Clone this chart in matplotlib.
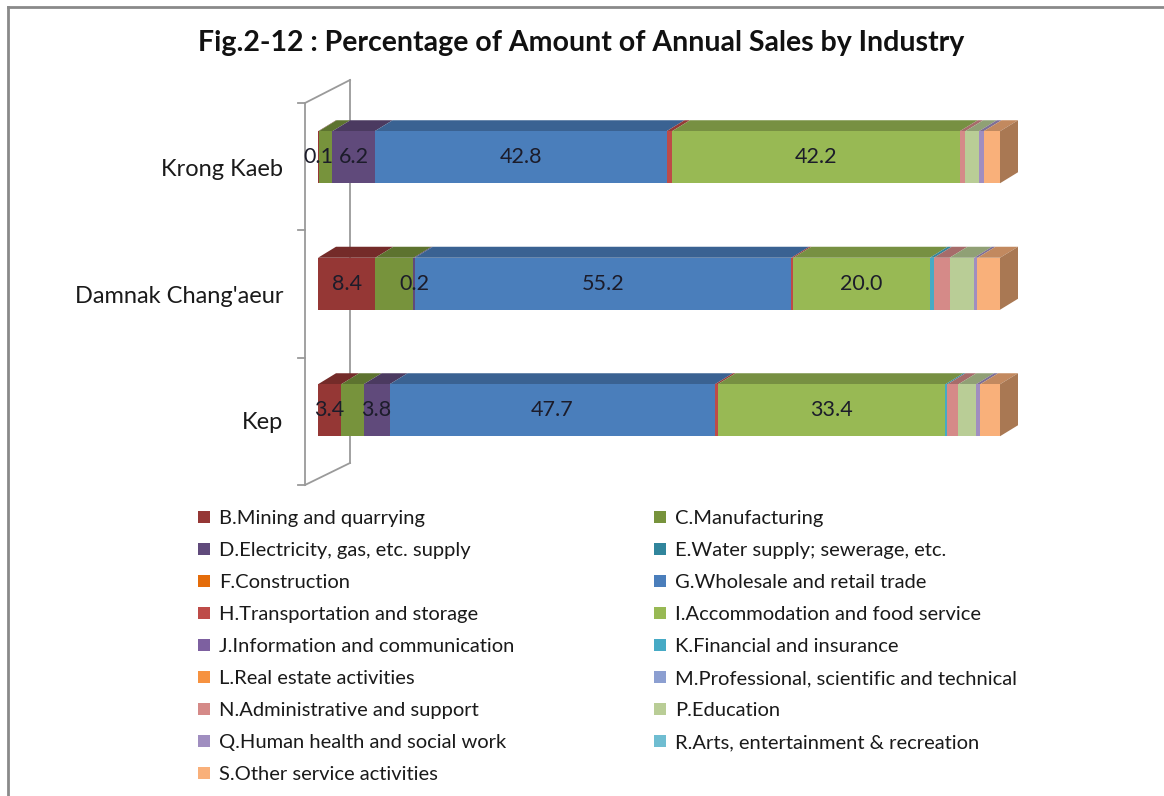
import numpy as np
import matplotlib.pyplot as plt
from matplotlib.patches import Polygon, Patch
from matplotlib.lines import Line2D
import matplotlib.colors as mcolors

# Data (percent of annual sales), series order B..S
regions = ['Kep', "Damnak Chang'aeur", 'Krong Kaeb']
industries = ['B.Mining and quarrying', 'C.Manufacturing',
              'D.Electricity, gas, etc. supply', 'E.Water supply; sewerage, etc.',
              'F.Construction', 'G.Wholesale and retail trade',
              'H.Transportation and storage', 'I.Accommodation and food service',
              'J.Information and communication', 'K.Financial and insurance',
              'L.Real estate activities', 'M.Professional, scientific and technical',
              'N.Administrative and support', 'P.Education',
              'Q.Human health and social work', 'R.Arts, entertainment & recreation',
              'S.Other service activities']
colors = ['#953735', '#77933C', '#604A7B', '#31859C', '#E46C0A', '#4A7EBB',
          '#BE4B48', '#98B954', '#7D60A0', '#46AAC5', '#F69240', '#8C9FD1',
          '#D58A88', '#B9CD96', '#A08EC0', '#6FBDD1', '#F9B07A']

kep = [3.4, 3.3, 3.8, 0, 0, 47.7, 0.4, 33.4, 0, 0.3, 0, 0, 1.6, 2.6, 0.6, 0, 2.9]
damnak = [8.4, 5.6, 0.2, 0, 0, 55.2, 0.3, 20.0, 0, 0.6, 0, 0, 2.3, 3.6, 0.5, 0, 3.3]
krong_kaeb = [0.1, 2.0, 6.2, 0, 0, 42.8, 0.8, 42.2, 0, 0, 0, 0, 0.8, 2.0, 0.7, 0, 2.4]
values = [kep, damnak, krong_kaeb]
# which series carry a data label (B, D, G, I)
labelled = [0, 2, 5, 7]

W, H = 1164, 796
plt.rcParams['font.family'] = ['Lato', 'DejaVu Sans']

fig = plt.figure(figsize=(W / 100, H / 100), dpi=100)
fig.patch.set_facecolor('white')

# axes placed so the front face of the bars spans 318..1000 px
ax_l, ax_r, ax_t, ax_b = 318, 1000, 94, 473.5
ax = fig.add_axes([ax_l / W, 1 - ax_b / H, (ax_r - ax_l) / W, (ax_b - ax_t) / H])
ax.set_xlim(0, 100)
ax.set_ylim(-0.5, 2.5)
ax.axis('off')

sx = (ax_r - ax_l) / 100.0      # px per percent
sy = (ax_b - ax_t) / 3.0        # px per category
dx = 18 / sx                    # bar depth offset
dy = 11 / sy
bar_h = 52 / sy


def shade(c, f):
    r, g, b = mcolors.to_rgb(c)
    return (r * f, g * f, b * f)


def px(x, y):
    return (x / W, 1 - y / H)


# 3D wall outline (front plane and back plane)
wall_col = '#9a9a9a'
front_x, back_x = 305, 350
for (x0, y0), (x1, y1) in [((front_x, 103), (front_x, 485)),
                           ((back_x, 80), (back_x, 463)),
                           ((front_x, 103), (back_x, 80)),
                           ((front_x, 485), (back_x, 463))]:
    fig.add_artist(Line2D([px(x0, y0)[0], px(x1, y1)[0]],
                          [px(x0, y0)[1], px(x1, y1)[1]],
                          color=wall_col, lw=1.3, zorder=0))
for i in range(4):
    yy = 485 - i * (485 - 103) / 3
    fig.add_artist(Line2D([px(298, yy)[0], px(front_x, yy)[0]],
                          [px(298, yy)[1], px(front_x, yy)[1]],
                          color=wall_col, lw=1.3, zorder=0))

# bars
for i, row in enumerate(values):
    left = 0.0
    top = i + bar_h / 2
    last = max(j for j, v in enumerate(row) if v > 0)
    for j, v in enumerate(row):
        if v <= 0:
            continue
        c = colors[j]
        ax.barh(i, v, left=left, height=bar_h, color=c, lw=0, zorder=3)
        ax.add_patch(Polygon([(left, top), (left + v, top),
                              (left + v + dx, top + dy), (left + dx, top + dy)],
                             closed=True, facecolor=shade(c, 0.78), lw=0,
                             zorder=2, clip_on=False))
        if j == last:
            ax.add_patch(Polygon([(left + v, i - bar_h / 2), (left + v, top),
                                  (left + v + dx, top + dy),
                                  (left + v + dx, i - bar_h / 2 + dy)],
                                 closed=True, facecolor=shade(c, 0.68), lw=0,
                                 zorder=2, clip_on=False))
        if j in labelled:
            ax.text(left + v / 2, i, f'{v:.1f}', ha='center', va='center',
                    fontsize=15.5, color='#1c1c2a', zorder=5, clip_on=False)
        left += v

# category labels
for i, name in enumerate(regions):
    ax.text(-5.1, i - 0.1, name, ha='right', va='center', fontsize=17,
            color='#1a1a1a', clip_on=False)

fig.text(581 / W, 1 - 43 / H, 'Fig.2-12 : Percentage of Amount of Annual Sales by Industry',
         ha='center', va='center', fontsize=20.5, fontweight='bold', color='#111111')

# legend, two columns filled row by row
order = list(range(0, 17, 2)) + list(range(1, 17, 2))
handles = [Patch(facecolor=colors[k], edgecolor='none', label=industries[k]) for k in order]
fig.legend(handles=handles, loc='upper left', bbox_to_anchor=(180 / W, 1 - 492 / H),
           ncol=2, frameon=False, fontsize=14.5, handlelength=0.6, handleheight=0.6,
           handletextpad=0.45, labelspacing=0.745, columnspacing=6.9,
           labelcolor='#1a1a1a')

# outer chart border (top and left visible)
fig.add_artist(Line2D([8 / W, 1], [1 - 7 / H, 1 - 7 / H], color='#8a8a8a', lw=2))
fig.add_artist(Line2D([8 / W, 8 / W], [0, 1 - 7 / H], color='#8a8a8a', lw=2))

fig.savefig('out.png', dpi=100)
